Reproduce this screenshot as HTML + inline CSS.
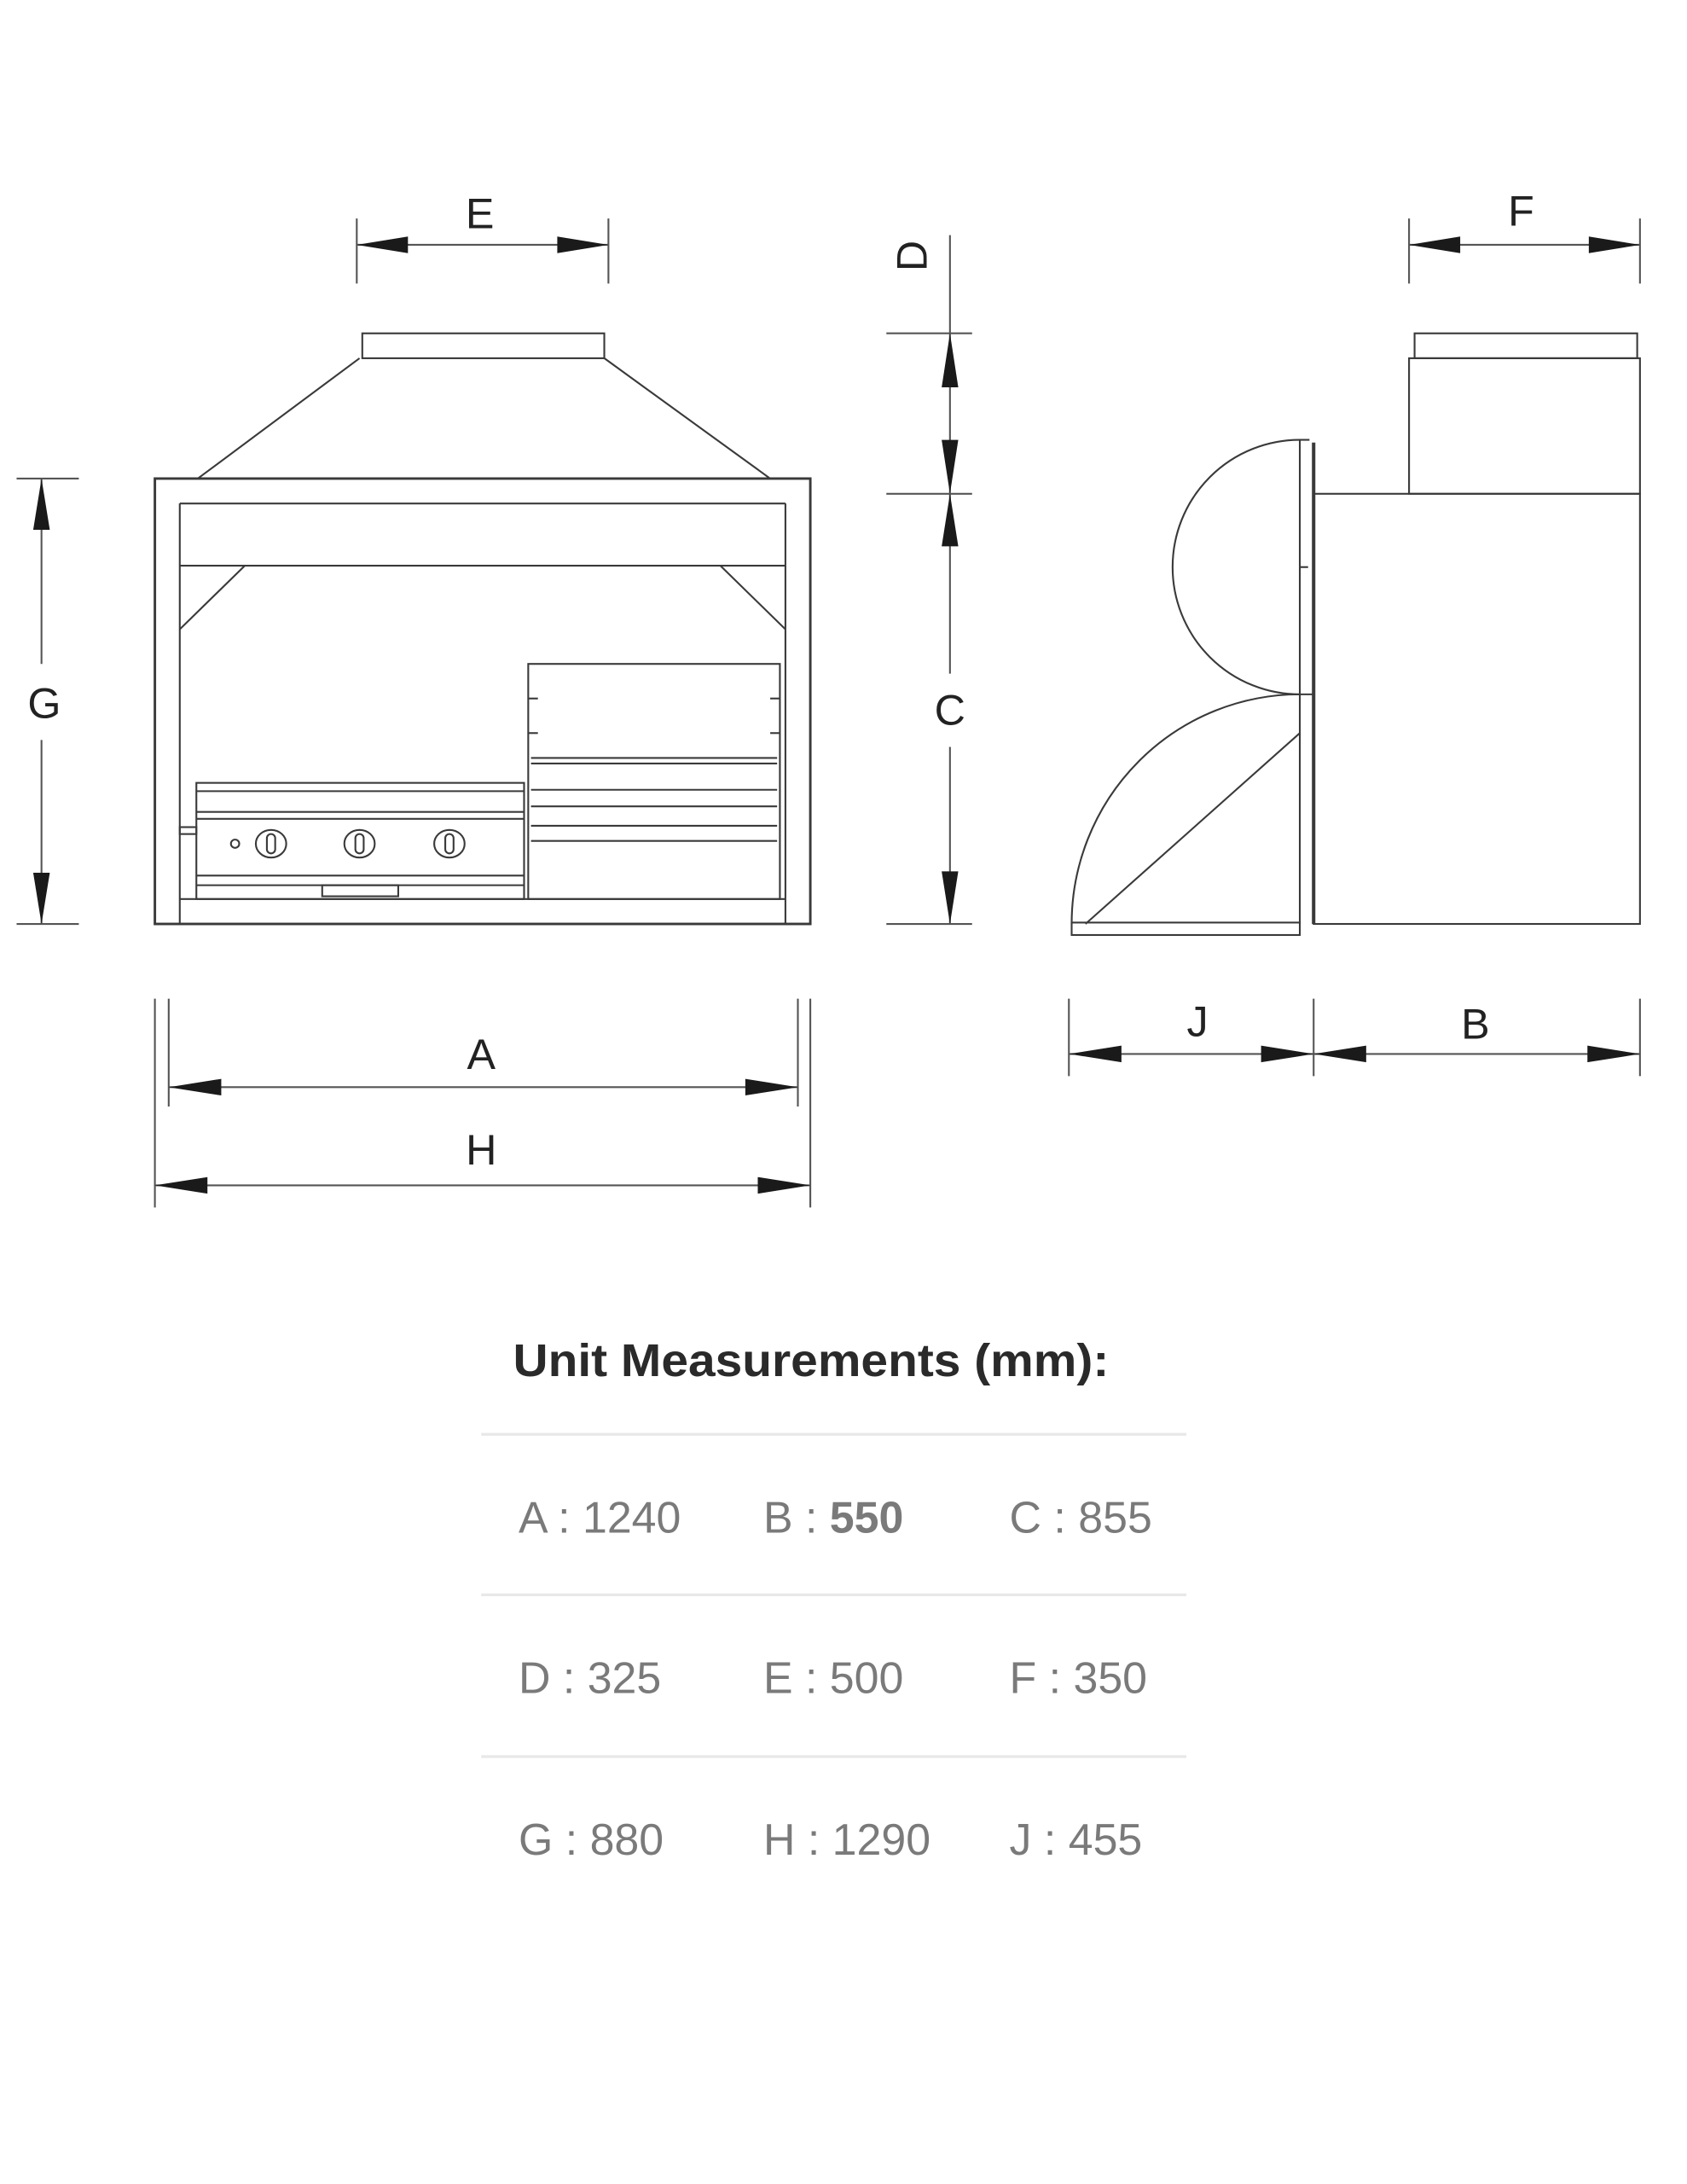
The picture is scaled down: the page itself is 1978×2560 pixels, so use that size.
<!DOCTYPE html>
<html><head><meta charset="utf-8"><style>
html,body{margin:0;padding:0;background:#fff;}
svg{display:block;}
</style></head><body>
<svg width="1978" height="2560" viewBox="0 0 1220 1579" xmlns="http://www.w3.org/2000/svg">
<rect width="1220" height="1579" fill="#fff"/>
<g stroke="#3a3a3a" stroke-width="1.3" fill="none">
<!-- FRONT VIEW -->
<rect x="262" y="241" width="175" height="18"/>
<line x1="260" y1="259" x2="143" y2="346"/>
<line x1="437" y1="259" x2="557" y2="346"/>
<rect x="112" y="346" width="474" height="322" stroke-width="1.8"/>
<line x1="130" y1="364" x2="130" y2="668"/>
<line x1="568" y1="364" x2="568" y2="668"/>
<line x1="130" y1="364" x2="568" y2="364"/>
<line x1="130" y1="409" x2="568" y2="409"/>
<line x1="130" y1="455" x2="177" y2="409"/>
<line x1="568" y1="455" x2="521" y2="409"/>
<line x1="130" y1="650" x2="568" y2="650"/>
<!-- right unit -->
<rect x="382" y="480" width="182" height="170"/>
<line x1="384" y1="548" x2="562" y2="548"/>
<line x1="384" y1="552" x2="562" y2="552"/>
<line x1="384" y1="571" x2="562" y2="571"/>
<line x1="384" y1="583" x2="562" y2="583"/>
<line x1="384" y1="597" x2="562" y2="597"/>
<line x1="384" y1="608" x2="562" y2="608"/>
<line x1="382" y1="505" x2="389" y2="505"/><line x1="382" y1="530" x2="389" y2="530"/>
<line x1="557" y1="505" x2="564" y2="505"/><line x1="557" y1="530" x2="564" y2="530"/>
<!-- left unit -->
<rect x="142" y="566" width="237" height="84"/>
<line x1="142" y1="572" x2="379" y2="572"/>
<line x1="142" y1="587" x2="379" y2="587"/>
<line x1="142" y1="592" x2="379" y2="592"/>
<line x1="142" y1="633" x2="379" y2="633"/>
<line x1="142" y1="640" x2="379" y2="640"/>
<rect x="233" y="640" width="55" height="8"/>
<rect x="130" y="598" width="12" height="5"/>
<circle cx="170" cy="610" r="3"/>
<ellipse cx="196" cy="610" rx="11" ry="10"/><rect x="193" y="603" width="6" height="14" rx="3"/>
<ellipse cx="260" cy="610" rx="11" ry="10"/><rect x="257" y="603" width="6" height="14" rx="3"/>
<ellipse cx="325" cy="610" rx="11" ry="10"/><rect x="322" y="603" width="6" height="14" rx="3"/>

<!-- SIDE VIEW -->
<rect x="1023" y="241" width="161" height="18"/>
<rect x="1019" y="259" width="167" height="98"/>
<rect x="950" y="357" width="236" height="311"/>
<line x1="950" y1="320" x2="950" y2="668" stroke-width="2.5"/>
<line x1="940" y1="318" x2="940" y2="668"/>
<line x1="940" y1="318" x2="947" y2="318"/>
<line x1="940" y1="410" x2="946" y2="410"/>
<line x1="940" y1="502" x2="950" y2="502"/>
<path d="M940 318 A92 92 0 0 0 940 502"/>
<path d="M940 502 A165 166 0 0 0 775 668"/>
<line x1="940" y1="530" x2="785" y2="668"/>
<rect x="775" y="667" width="165" height="9"/>
</g>

<!-- DIMENSIONS -->
<g stroke="#555" stroke-width="1.3" fill="none">
<line x1="258" y1="158" x2="258" y2="205"/><line x1="440" y1="158" x2="440" y2="205"/>
<line x1="258" y1="177" x2="440" y2="177"/>
<line x1="1019" y1="158" x2="1019" y2="205"/><line x1="1186" y1="158" x2="1186" y2="205"/>
<line x1="1019" y1="177" x2="1186" y2="177"/>
<line x1="12" y1="346" x2="57" y2="346"/><line x1="12" y1="668" x2="57" y2="668"/>
<line x1="30" y1="346" x2="30" y2="480"/><line x1="30" y1="535" x2="30" y2="668"/>
<line x1="112" y1="722" x2="112" y2="873"/><line x1="586" y1="722" x2="586" y2="873"/>
<line x1="122" y1="722" x2="122" y2="800"/><line x1="577" y1="722" x2="577" y2="800"/>
<line x1="122" y1="786" x2="577" y2="786"/>
<line x1="112" y1="857" x2="586" y2="857"/>
<line x1="687" y1="170" x2="687" y2="487"/><line x1="687" y1="540" x2="687" y2="668"/>
<line x1="641" y1="241" x2="703" y2="241"/><line x1="641" y1="357" x2="703" y2="357"/><line x1="641" y1="668" x2="703" y2="668"/>
<line x1="773" y1="722" x2="773" y2="778"/><line x1="950" y1="722" x2="950" y2="778"/><line x1="1186" y1="722" x2="1186" y2="778"/>
<line x1="773" y1="762" x2="1186" y2="762"/>
</g>
<g fill="#1a1a1a">
<polygon points="258,177 295,171 295,183"/><polygon points="440,177 403,171 403,183"/>
<polygon points="1019,177 1056,171 1056,183"/><polygon points="1186,177 1149,171 1149,183"/>
<polygon points="30,346 24,383 36,383"/><polygon points="30,668 24,631 36,631"/>
<polygon points="122,786 160,780 160,792"/><polygon points="577,786 539,780 539,792"/>
<polygon points="112,857 150,851 150,863"/><polygon points="586,857 548,851 548,863"/>
<polygon points="687,241 681,280 693,280"/><polygon points="687,357 681,318 693,318"/>
<polygon points="687,357 681,395 693,395"/><polygon points="687,668 681,630 693,630"/>
<polygon points="773,762 811,756 811,768"/><polygon points="950,762 912,756 912,768"/>
<polygon points="950,762 988,756 988,768"/><polygon points="1186,762 1148,756 1148,768"/>
</g>
<g font-family="'Liberation Sans', sans-serif" font-size="31" fill="#222" text-anchor="middle">
<text x="347" y="165">E</text>
<text x="1100" y="163">F</text>
<text x="32" y="519">G</text>
<text x="348" y="773">A</text>
<text x="348" y="842">H</text>
<text x="687" y="524">C</text>
<text x="866" y="749">J</text>
<text x="1067" y="751">B</text>
<text transform="translate(670,185) rotate(-90)">D</text>
</g>

<!-- TABLE -->
<text x="371" y="995" font-family="'Liberation Sans', sans-serif" font-size="33" font-weight="bold" fill="#2a2a2a" textLength="431" lengthAdjust="spacingAndGlyphs">Unit Measurements (mm):</text>
<g stroke="#e8e8e8" stroke-width="2">
<line x1="348" y1="1037" x2="858" y2="1037"/>
<line x1="348" y1="1153" x2="858" y2="1153"/>
<line x1="348" y1="1270" x2="858" y2="1270"/>
</g>
<g font-family="'Liberation Sans', sans-serif" font-size="32" fill="#7a7a7a">
<text x="375" y="1108">A : 1240</text>
<text x="552" y="1108">B : <tspan font-weight="bold">550</tspan></text>
<text x="730" y="1108">C : 855</text>
<text x="375" y="1224">D : 325</text>
<text x="552" y="1224">E : 500</text>
<text x="730" y="1224">F : 350</text>
<text x="375" y="1341">G : 880</text>
<text x="552" y="1341">H : 1290</text>
<text x="730" y="1341">J : 455</text>
</g>
</svg>
</body></html>
